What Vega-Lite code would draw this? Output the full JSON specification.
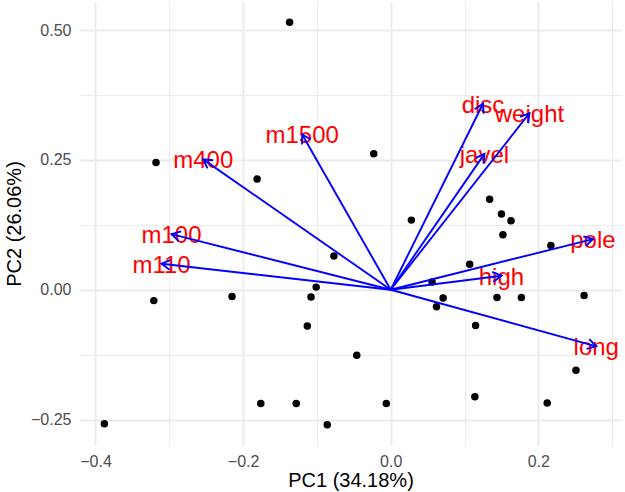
{
  "$schema": "https://vega.github.io/schema/vega-lite/v6.json",
  "width": 541,
  "height": 443,
  "autosize": {"type": "none"},
  "padding": {"left": 80, "top": 2, "right": 4, "bottom": 47},
  "background": "white",
  "config": {
    "view": {"stroke": null},
    "font": "Liberation Sans",
    "axis": {
      "domain": false,
      "ticks": false,
      "grid": true,
      "gridColor": "#EBEBEB",
      "labelColor": "#4D4D4D",
      "labelFontSize": 16,
      "labelFont": "Liberation Sans",
      "titleFont": "Liberation Sans",
      "titleFontSize": 20,
      "titleFontWeight": "normal",
      "titleColor": "black",
      "labelOverlap": false,
      "labelFlush": false
    }
  },
  "datasets": {
    "ind": [
      {"PC1": -0.137, "PC2": 0.515},
      {"PC1": -0.318, "PC2": 0.245},
      {"PC1": -0.181, "PC2": 0.213},
      {"PC1": -0.023, "PC2": 0.262},
      {"PC1": 0.028, "PC2": 0.134},
      {"PC1": 0.134, "PC2": 0.174},
      {"PC1": 0.150, "PC2": 0.146},
      {"PC1": 0.163, "PC2": 0.133},
      {"PC1": 0.152, "PC2": 0.106},
      {"PC1": 0.217, "PC2": 0.085},
      {"PC1": -0.077, "PC2": 0.065},
      {"PC1": -0.101, "PC2": 0.005},
      {"PC1": -0.321, "PC2": -0.021},
      {"PC1": -0.215, "PC2": -0.013},
      {"PC1": -0.108, "PC2": -0.014},
      {"PC1": -0.113, "PC2": -0.070},
      {"PC1": -0.046, "PC2": -0.126},
      {"PC1": -0.176, "PC2": -0.219},
      {"PC1": -0.128, "PC2": -0.219},
      {"PC1": -0.006, "PC2": -0.219},
      {"PC1": -0.388, "PC2": -0.258},
      {"PC1": -0.086, "PC2": -0.260},
      {"PC1": 0.107, "PC2": 0.049},
      {"PC1": 0.056, "PC2": 0.015},
      {"PC1": 0.071, "PC2": -0.016},
      {"PC1": 0.062, "PC2": -0.033},
      {"PC1": 0.144, "PC2": -0.015},
      {"PC1": 0.177, "PC2": -0.015},
      {"PC1": 0.262, "PC2": -0.011},
      {"PC1": 0.115, "PC2": -0.069},
      {"PC1": 0.251, "PC2": -0.155},
      {"PC1": 0.114, "PC2": -0.206},
      {"PC1": 0.212, "PC2": -0.218}
    ],
    "var": [
      {"name": "m100", "PC1": -0.297, "PC2": 0.107},
      {"name": "m110", "PC1": -0.3105, "PC2": 0.050},
      {"name": "m400", "PC1": -0.254, "PC2": 0.251},
      {"name": "m1500", "PC1": -0.120, "PC2": 0.299},
      {"name": "disc", "PC1": 0.125, "PC2": 0.358},
      {"name": "weight", "PC1": 0.188, "PC2": 0.340},
      {"name": "javel", "PC1": 0.127, "PC2": 0.2615},
      {"name": "pole", "PC1": 0.274, "PC2": 0.0975},
      {"name": "high", "PC1": 0.150, "PC2": 0.027},
      {"name": "long", "PC1": 0.2785, "PC2": -0.109}
    ]
  },
  "layer": [
    {
      "data": {"name": "ind"},
      "mark": {"type": "point", "filled": true, "shape": "circle", "size": 56, "color": "black", "opacity": 1},
      "encoding": {
        "x": {
          "field": "PC1", "type": "quantitative",
          "scale": {"domain": [-0.421, 0.312], "nice": false, "zero": false},
          "axis": {
            "title": "PC1 (34.18%)",
            "values": [-0.4, -0.3, -0.2, -0.1, 0, 0.1, 0.2, 0.3],
            "labelExpr": "abs(datum.value*10 % 2) > 0.5 ? '' : format(datum.value, '.1f')",
            "gridWidth": {"condition": {"test": "abs(datum.value*10 % 2) > 0.5", "value": 1}, "value": 1.9},
            "labelPadding": 8,
            "titlePadding": 1
          }
        },
        "y": {
          "field": "PC2", "type": "quantitative",
          "scale": {"domain": [-0.299, 0.554], "nice": false, "zero": false},
          "axis": {
            "title": "PC2 (26.06%)",
            "values": [-0.25, -0.125, 0, 0.125, 0.25, 0.375, 0.5],
            "labelExpr": "abs(datum.value*4 % 1) > 0.1 ? '' : format(datum.value, '.2f')",
            "gridWidth": {"condition": {"test": "abs(datum.value*4 % 1) > 0.1", "value": 1}, "value": 1.9},
            "labelPadding": 9,
            "titlePadding": 6
          }
        }
      }
    },
    {
      "data": {"name": "var"},
      "mark": {"type": "text", "color": "#FF0000", "fontSize": 24, "font": "Liberation Sans", "baseline": "middle", "align": "center", "dy": 2},
      "encoding": {
        "x": {"field": "PC1", "type": "quantitative"},
        "y": {"field": "PC2", "type": "quantitative"},
        "text": {"field": "name"}
      }
    },
    {
      "data": {"name": "var"},
      "mark": {"type": "rule", "color": "#0000FF", "strokeWidth": 1.9},
      "encoding": {
        "x": {"field": "PC1", "type": "quantitative"},
        "y": {"field": "PC2", "type": "quantitative"},
        "x2": {"datum": 0},
        "y2": {"datum": 0}
      }
    },
    {
      "data": {"name": "var"},
      "transform": [
        {"calculate": "atan2(datum.PC1*738.1, datum.PC2*519.3)*180/PI", "as": "ang"}
      ],
      "mark": {"type": "point", "shape": "M-0.5,0.866L0,0L0.5,0.866", "size": 400, "filled": false, "stroke": "#0000FF", "strokeWidth": 1.9, "opacity": 1},
      "encoding": {
        "x": {"field": "PC1", "type": "quantitative"},
        "y": {"field": "PC2", "type": "quantitative"},
        "angle": {"field": "ang", "type": "quantitative", "scale": null}
      }
    }
  ]
}
